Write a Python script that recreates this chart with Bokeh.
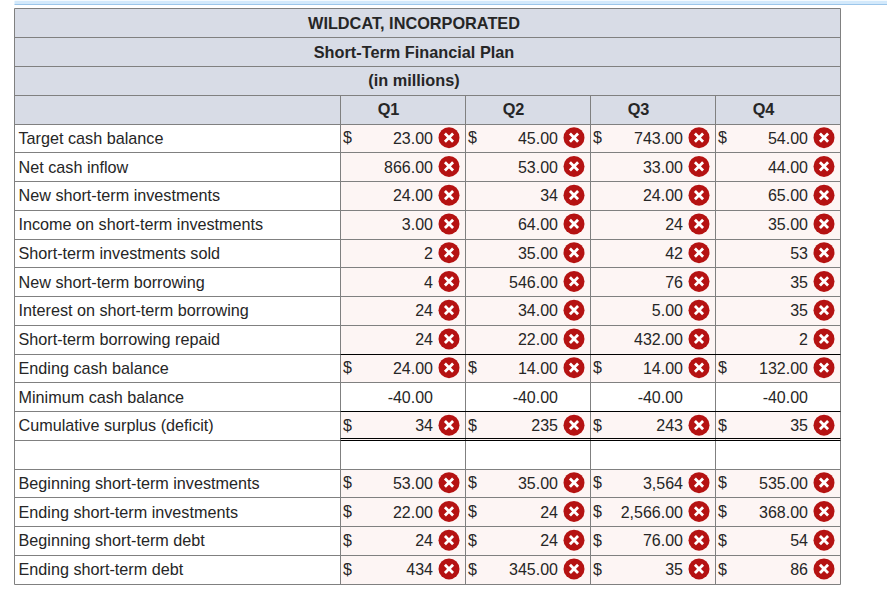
from bokeh.plotting import figure
from bokeh.models import ColumnDataSource
from bokeh.core.properties import value
from bokeh.embed import file_html
from bokeh.resources import INLINE
import math

titles = ["WILDCAT, INCORPORATED", "Short-Term Financial Plan", "(in millions)"]
quarters = ["Q1", "Q2", "Q3", "Q4"]
labels = ["Target cash balance", "Net cash inflow", "New short-term investments",
          "Income on short-term investments", "Short-term investments sold",
          "New short-term borrowing", "Interest on short-term borrowing",
          "Short-term borrowing repaid", "Ending cash balance", "Minimum cash balance",
          "Cumulative surplus (deficit)", "", "Beginning short-term investments",
          "Ending short-term investments", "Beginning short-term debt", "Ending short-term debt"]
q1 = ["23.00", "866.00", "24.00", "3.00", "2", "4", "24", "24", "24.00", "-40.00", "34", "", "53.00", "22.00", "24", "434"]
q2 = ["45.00", "53.00", "34", "64.00", "35.00", "546.00", "34.00", "22.00", "14.00", "-40.00", "235", "", "35.00", "24", "24", "345.00"]
q3 = ["743.00", "33.00", "24.00", "24", "42", "76", "5.00", "432.00", "14.00", "-40.00", "243", "", "3,564", "2,566.00", "76.00", "35"]
q4 = ["54.00", "44.00", "65.00", "35.00", "53", "35", "35", "2", "132.00", "-40.00", "35", "", "535.00", "368.00", "54", "86"]
dollar_rows = [0, 8, 10, 12, 13, 14, 15]
plain_rows = [9, 11]

# layout of the table, in page pixels
TOP, ROW_H, LEFT, COL0, COL_W = 9.0, 28.75, 14.0, 340.0, 125.0
RIGHT = COL0 + 4 * COL_W
HEAD = 4
FONT = value("Liberation Sans")
INK = "#262626"
GRID = "#808080"

p = figure(width=887, height=602, x_range=(0, 887), y_range=(602, 0),
           output_backend="svg", toolbar_location=None,
           min_border=0, min_border_left=0, min_border_right=0, min_border_top=0, min_border_bottom=0,
           outline_line_color=None, background_fill_color="white", border_fill_color="white")
p.margin = (0, 0, 0, 0)
p.xaxis.visible = False
p.yaxis.visible = False
p.grid.visible = False


def row_y(i):
    return 8 if i == 0 else math.floor(TOP + i * ROW_H)


# top page strip and header band
p.quad(left=[14], right=[887], top=[0], bottom=[4], fill_color="#d3e9fb", line_color=None)
p.segment([14], [4], [887], [4], line_color="#9cc6ea", line_width=1)
p.quad(left=[LEFT], right=[RIGHT], top=[row_y(0)], bottom=[row_y(HEAD)], fill_color="#d8dce6", line_color=None)

# answer cells
cl, cr, ct, cb = [], [], [], []
for r in range(len(labels)):
    if r in plain_rows:
        continue
    for c in range(4):
        cl.append(COL0 + c * COL_W)
        cr.append(COL0 + (c + 1) * COL_W)
        ct.append(row_y(HEAD + r))
        cb.append(row_y(HEAD + r + 1))
p.quad(left=cl, right=cr, top=ct, bottom=cb, fill_color="#fdf5f4", line_color=None)

# grid
hy = [row_y(i) for i in range(21)]
p.segment([LEFT] * 21, hy, [RIGHT] * 21, hy, line_color=GRID, line_width=1)
vx = [LEFT, RIGHT]
p.segment(vx, [row_y(0)] * 2, vx, [row_y(20)] * 2, line_color=GRID, line_width=1)
vx = [COL0 + c * COL_W for c in range(4)]
p.segment(vx, [row_y(3)] * 4, vx, [row_y(20)] * 4, line_color=GRID, line_width=1)

# black rules of the total rows
by = [row_y(HEAD + 8), row_y(HEAD + 10), row_y(HEAD + 11) - 2, row_y(HEAD + 11)]
p.segment([COL0] * 4, by, [RIGHT] * 4, by, line_color="black", line_width=1)

# header texts
p.text(x=[413.5] * 3, y=[TOP + (i + 0.5) * ROW_H - 1 for i in range(3)], text=titles,
       text_font=FONT, text_font_style="bold", text_font_size="16.3px", text_color=INK,
       text_align="center", text_baseline="middle")
p.text(x=[COL0 + c * COL_W + 48 for c in range(4)], y=[TOP + 3.5 * ROW_H - 1] * 4, text=quarters,
       text_font=FONT, text_font_style="bold", text_font_size="16.3px", text_color=INK,
       text_align="center", text_baseline="middle")

# row labels
ly = [TOP + (HEAD + r + 0.5) * ROW_H - 1 for r in range(len(labels))]
p.text(x=[18] * len(labels), y=ly, text=labels, text_font=FONT, text_font_size="16.2px",
       text_color=INK, text_align="left", text_baseline="middle")

# values, dollar signs, icons
vxs, vys, vts, dxs, dys, ixs, iys = [], [], [], [], [], [], []
for c, col in enumerate([q1, q2, q3, q4]):
    x0 = COL0 + c * COL_W
    for r, txt in enumerate(col):
        if not txt:
            continue
        y = TOP + (HEAD + r + 0.5) * ROW_H - 1
        vxs.append(x0 + 92.5)
        vys.append(y)
        vts.append(txt)
        if r in dollar_rows:
            dxs.append(x0 + 2.5)
            dys.append(y)
        if r not in plain_rows:
            ixs.append(x0 + 108.5)
            iys.append(y - 0.25)
p.text(x=vxs, y=vys, text=vts, text_font=FONT, text_font_size="16px", text_color=INK,
       text_align="right", text_baseline="middle")
p.text(x=dxs, y=dys, text=["$"] * len(dxs), text_font=FONT, text_font_size="16px", text_color=INK,
       text_align="left", text_baseline="middle")
src = ColumnDataSource(dict(x=ixs, y=iys))
p.scatter("x", "y", source=src, marker="circle", size=21, fill_color="#b51212", line_color=None)
p.scatter("x", "y", source=src, marker="x", size=11.5, line_color="white", line_width=2.8, fill_color=None)

open("out.html", "w").write(file_html(p, INLINE))
